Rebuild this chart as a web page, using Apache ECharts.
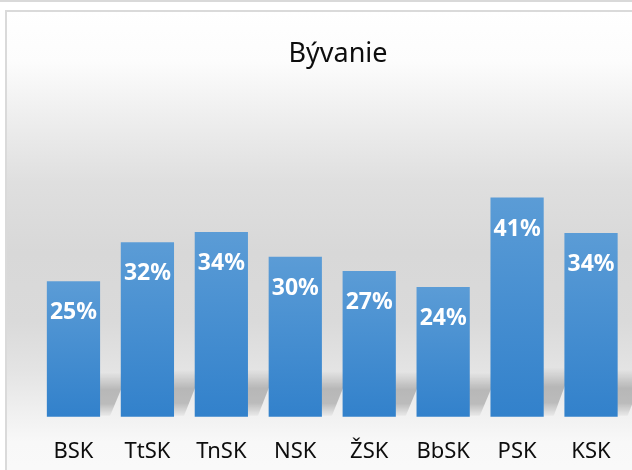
<!DOCTYPE html>
<html>
<head>
<meta charset="utf-8">
<script src="https://cdn.jsdelivr.net/npm/echarts@6/dist/echarts.min.js"></script>
<style>
    html, body { margin: 0; padding: 0; background: #ffffff; }
    .page { position: relative; width: 632px; height: 470px; overflow: hidden; }
    .topband { position: absolute; left: 0; top: 0; width: 632px; height: 2px; background: #d9d9d9; }
    .frame {
        position: absolute; left: 5px; top: 10px; width: 650px; height: 480px;
        border: 2px solid #dadada;
        background: linear-gradient(to bottom,
            #ffffff 0px, #fcfcfc 50px, #ededed 110px, #dfdfdf 170px,
            #d8d8d8 240px, #dadada 310px, #e4e4e4 360px, #f0f0f0 400px,
            #f8f8f8 430px, #fafafa 480px);
    }
    #chart { position: absolute; left: 0; top: 0; width: 632px; height: 470px; }
</style>
</head>
<body>
<div class="page">
    <div class="topband"></div>
    <div class="frame"></div>
    <div id="chart"></div>
</div>
<script>
    // data (percent)
    const categories = ['BSK', 'TtSK', 'TnSK', 'NSK', 'ŽSK', 'BbSK', 'PSK', 'KSK'];
    const values = [25.1, 32.3, 34.2, 29.6, 27.0, 24.0, 40.6, 34.0];
    const title = 'Bývanie';

    const chart = echarts.init(document.getElementById('chart'), null, { renderer: 'canvas' });

    // soft perspective shadow at the foot of each bar
    function renderShadow(params, api) {
        const base = api.coord([api.value(0), 0]);
        const top = api.coord([api.value(0), api.value(1)]);
        const h = base[1] - top[1];
        const bw = api.size([1, 0])[0] * 0.72;
        const left = base[0] - bw / 2 + 4;
        const y0 = base[1] - 1;
        const y1 = base[1] - (36 + 0.06 * h);
        const dx = 18;
        return {
            type: 'polygon',
            shape: { points: [[left, y0], [left + bw + 6, y0], [left + bw + 6 + dx, y1], [left + dx, y1]] },
            style: {
                fill: new echarts.graphic.LinearGradient(0, 0, 0, 1, [
                    { offset: 0, color: 'rgba(0,0,0,0)' },
                    { offset: 0.4, color: 'rgba(0,0,0,0.21)' },
                    { offset: 0.72, color: 'rgba(0,0,0,0.21)' },
                    { offset: 1, color: 'rgba(0,0,0,0.03)' }
                ])
            }
        };
    }

    const option = {
        animation: false,
        backgroundColor: 'transparent',
        title: {
            text: title,
            left: 333,
            top: 36,
            textAlign: 'center',
            textStyle: {
                fontFamily: 'Noto Sans',
                fontSize: 27,
                fontWeight: 'normal',
                color: '#0d0d0d'
            }
        },
        grid: { left: 36.5, right: 4, top: 146.7, bottom: 53.3 },
        xAxis: {
            type: 'category',
            data: categories,
            axisLine: { show: false },
            axisTick: { show: false },
            axisLabel: {
                margin: 24,
                fontFamily: 'Noto Sans',
                fontSize: 22,
                color: '#0d0d0d'
            }
        },
        yAxis: {
            type: 'value',
            min: 0,
            max: 50,
            show: false,
            splitLine: { show: false }
        },
        series: [{
            type: 'custom',
            renderItem: renderShadow,
            data: values.map((v, i) => [i, v]),
            encode: { x: 0, y: 1 },
            silent: true,
            z: 1
        }, {
            name: title,
            type: 'bar',
            data: values,
            barCategoryGap: '28%',
            z: 2,
            itemStyle: {
                color: new echarts.graphic.LinearGradient(0, 0, 0, 1, [
                    { offset: 0, color: '#5b9cd6' },
                    { offset: 1, color: '#3281cb' }
                ])
            },
            label: {
                show: true,
                position: 'insideTop',
                distance: 20,
                formatter: p => Math.round(p.value) + '%',
                fontFamily: 'Noto Sans',
                fontSize: 23,
                fontWeight: 'bold',
                color: '#ffffff'
            }
        }]
    };

    chart.setOption(option);
</script>
</body>
</html>
